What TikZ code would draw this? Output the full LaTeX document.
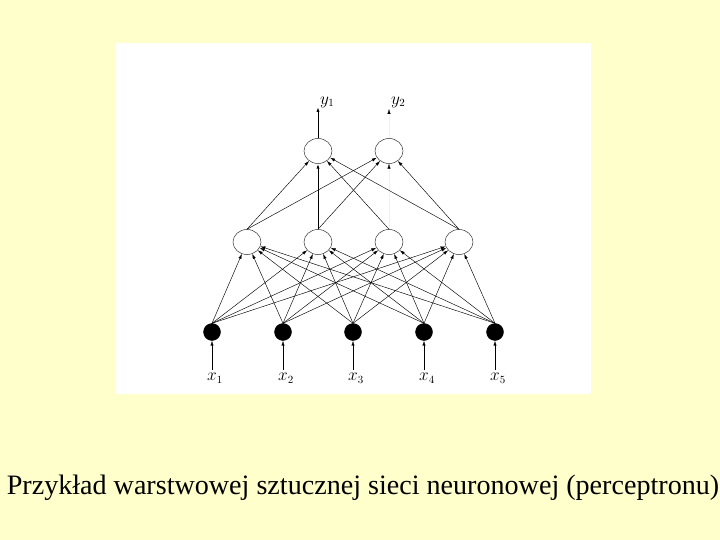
\documentclass[tikz,border=0pt]{standalone}
\usepackage{fontspec}
\setmainfont{Liberation Serif}
\usetikzlibrary{arrows.meta,shapes.geometric}
\definecolor{bgyellow}{HTML}{FFFFCC}
\tikzset{
  inp/.style={ellipse,fill=black,draw=black,minimum width=17pt,minimum height=17pt,inner sep=0pt},
  neu/.style={ellipse,draw=black!80,line width=0.5pt,fill=white,minimum width=28pt,minimum height=25pt,inner sep=0pt},
  conn/.style={line width=0.45pt,-{Latex[length=5pt,width=3.2pt]}},
  faint/.style={line width=0.3pt,draw=black!6,-{Latex[length=5pt,width=3.2pt,color=black,fill=black]}},
  lab/.style={font=\fontsize{16}{16}\selectfont,inner sep=0pt}
}
\begin{document}
\begin{tikzpicture}[x=1pt,y=-1pt]
\useasboundingbox (0,0) rectangle (720,540);
\fill[bgyellow] (0,0) rectangle (720,540);
\fill[white] (116,43) rectangle (591,394);
% inputs
\foreach \i/\x in {1/212,2/283,3/353,4/424,5/495}{
  \node[inp] (i\i) at (\x,332) {};
  \node[lab] (l\i) at (\x+3,378) {$x_{\i}$};
  \coordinate (s\i) at (\x,370);
  \draw[conn] (s\i) -- (i\i);
}
% hidden
\foreach \j/\x in {1/247,2/318,3/389,4/459}{
  \node[neu] (h\j) at (\x,242) {};
}
% outputs
\node[neu] (o1) at (318,151) {};
\node[neu] (o2) at (389,151) {};
% input -> hidden
\foreach \i in {1,...,5}{
  \foreach \j in {1,...,4}{
    \draw[conn] (i\i.north) -- (h\j);
  }
}
% hidden -> output
\draw[conn] (h1.north) -- (o1);
\draw[conn] (h1.north) -- (o2);
\draw[line width=1pt,-{Latex[length=5pt,width=3.2pt]}] (h2.north) -- (o1);
\draw[conn] (h2.north) -- (o2);
\draw[conn] (h3.north) -- (o1);
\draw[faint] (h3.north) -- (o2);
\draw[conn] (h4.north) -- (o1);
\draw[conn] (h4.north) -- (o2);
% outputs up
\coordinate (e1) at (318,107);
\coordinate (e2) at (389,109);
\draw[line width=1pt,-{Latex[length=5pt,width=3.2pt]}] (o1) -- (e1);
\draw[faint] (o2) -- (e2);
\node[lab,anchor=west] (y1) at (320,102) {$y_1$};
\node[lab,anchor=west] (y2) at (391,102) {$y_2$};
% caption
\node[font=\fontsize{28.1}{28}\selectfont,inner sep=0pt] (cap) at (363,488) {Przykład warstwowej sztucznej sieci neuronowej (perceptronu)};
\end{tikzpicture}
\end{document}
